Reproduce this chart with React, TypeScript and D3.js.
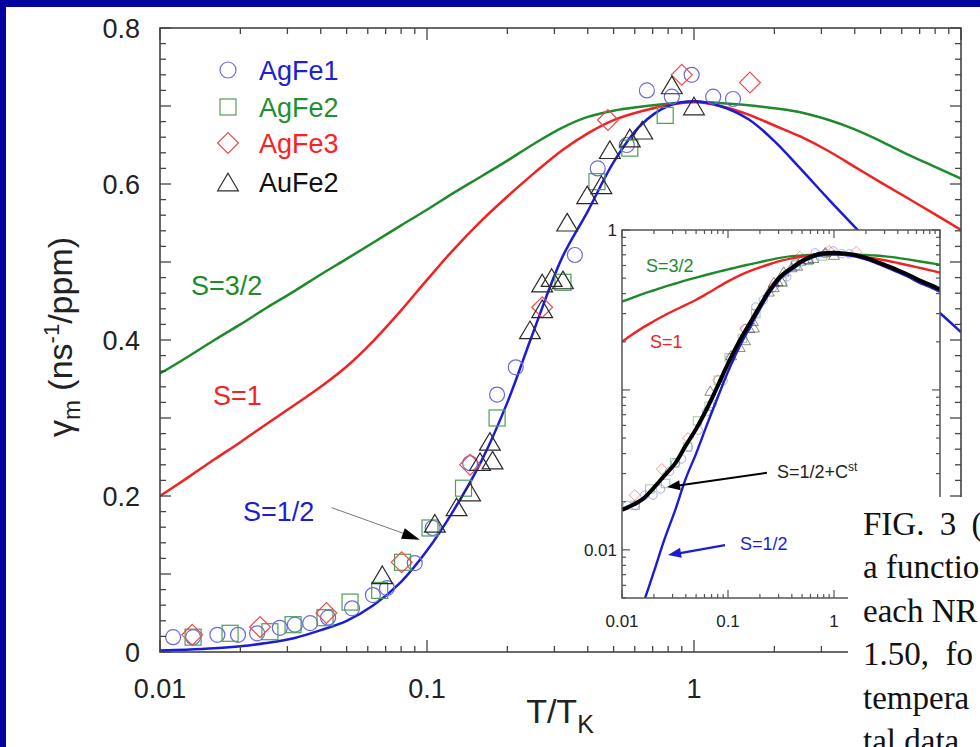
import React from "react";
import * as d3 from "d3";

// model curves, sampled on the same T/TK grid
const tGrid = [0.01, 0.0125, 0.016, 0.02, 0.025, 0.032, 0.04, 0.05, 0.063, 0.08, 0.1, 0.125, 0.16, 0.2, 0.25, 0.32, 0.4, 0.5, 0.63, 0.8, 1, 1.25, 1.6, 2, 2.5, 3.2, 4, 5, 6.3, 8, 10];
const spinHalf = [0.0018, 0.0029, 0.0047, 0.0073, 0.0115, 0.018, 0.028, 0.04, 0.06, 0.09, 0.13, 0.18, 0.245, 0.32, 0.41, 0.505, 0.565, 0.628, 0.675, 0.7, 0.706, 0.7, 0.683, 0.655, 0.62, 0.58, 0.545, 0.51, 0.47, 0.44, 0.41];
const spinOne = [0.2, 0.222, 0.247, 0.269, 0.292, 0.317, 0.34, 0.366, 0.399, 0.438, 0.477, 0.515, 0.553, 0.584, 0.613, 0.643, 0.665, 0.682, 0.693, 0.701, 0.705, 0.7, 0.689, 0.675, 0.661, 0.642, 0.622, 0.602, 0.582, 0.561, 0.541];
const spinThreeHalf = [0.357, 0.377, 0.4, 0.42, 0.441, 0.463, 0.484, 0.504, 0.525, 0.547, 0.567, 0.588, 0.61, 0.63, 0.651, 0.672, 0.686, 0.694, 0.699, 0.703, 0.705, 0.704, 0.701, 0.697, 0.692, 0.682, 0.67, 0.655, 0.638, 0.622, 0.607];
const spinHalfConst = [0.0178, 0.019, 0.021, 0.0245, 0.029, 0.035, 0.045, 0.057, 0.076, 0.106, 0.146, 0.196, 0.26, 0.335, 0.425, 0.52, 0.58, 0.64, 0.69, 0.715, 0.72, 0.714, 0.698, 0.67, 0.635, 0.595, 0.56, 0.525, 0.487, 0.455, 0.425];

// measured points [T/TK, gamma]
const agFe1 = [[0.0112, 0.019], [0.0133, 0.019], [0.0164, 0.022], [0.0196, 0.022], [0.0231, 0.024], [0.0281, 0.031], [0.032, 0.035], [0.0365, 0.037], [0.0426, 0.044], [0.0524, 0.056], [0.0627, 0.073], [0.0708, 0.082], [0.09, 0.114], [0.105, 0.159], [0.145, 0.242], [0.183, 0.33], [0.215, 0.365], [0.358, 0.509], [0.436, 0.62], [0.56, 0.65], [0.666, 0.72], [0.826, 0.712], [0.98, 0.74], [1.18, 0.712], [1.4, 0.709]];
const agFe2 = [[0.0133, 0.019], [0.0183, 0.024], [0.0258, 0.026], [0.0315, 0.035], [0.0415, 0.044], [0.0515, 0.064], [0.0665, 0.079], [0.081, 0.115], [0.1026, 0.159], [0.137, 0.21], [0.183, 0.3], [0.323, 0.474], [0.433, 0.603], [0.575, 0.646], [0.78, 0.688]];
const agFe3 = [[0.0132, 0.022], [0.0237, 0.032], [0.042, 0.05], [0.0804, 0.115], [0.145, 0.24], [0.27, 0.442], [0.476, 0.682], [0.9, 0.74], [1.62, 0.73]];
const auFe2 = [[0.068, 0.099], [0.107, 0.165], [0.129, 0.186], [0.145, 0.205], [0.158, 0.244], [0.172, 0.27], [0.176, 0.246], [0.243, 0.413], [0.27, 0.44], [0.27, 0.473], [0.293, 0.48], [0.323, 0.477], [0.335, 0.551], [0.398, 0.586], [0.45, 0.599], [0.484, 0.644], [0.575, 0.659], [0.64, 0.669], [0.826, 0.727], [1.0, 0.7]];

const seriesNames = ["AgFe1", "AgFe2", "AgFe3", "AuFe2"];
const mainYLabels = [0, 0.2, 0.4, 0.6, 0.8];
const mainXLabels = [0.01, 0.1, 1];
const insetXLabels = [0.01, 0.1, 1];
const insetYLabels = [0.01, 1];
const captionLines = ["FIG. 3 (", "a functio", "each NR", "1.50,  fo", "tempera", "tal data"];

const W = 980, H = 747;
const sans = "'Liberation Sans', Arial, sans-serif";
const cBlue = "#1c1cd6", cRed = "#f02222", cGreen = "#1d8a2c";
const markColor = ["#6a6ae0", "#4f9e55", "#ec4a4a", "#2a2a2a"];
const textColor = ["#2020d0", "#1f8f2f", "#ff2020", "#111"];
const kinds = ["circle", "square", "diamond", "triangle"];
const sets = [agFe1, agFe2, agFe3, auFe2];

function Marker({ kind, cx, cy, s, color, sw = 1.2, op = 1 }) {
  const common = { fill: "none", stroke: color, strokeWidth: sw, opacity: op };
  if (kind === "circle") return <circle cx={cx} cy={cy} r={s} {...common} />;
  if (kind === "square") return <rect x={cx - s} y={cy - s} width={2 * s} height={2 * s} {...common} />;
  if (kind === "diamond") {
    const d = s * 1.3;
    return <polygon points={`${cx},${cy - d} ${cx + d},${cy} ${cx},${cy + d} ${cx - d},${cy}`} {...common} />;
  }
  const h = s * 1.1;
  return <polygon points={`${cx},${cy - h} ${cx + s * 1.3},${cy + h} ${cx - s * 1.3},${cy + h}`} {...common} />;
}

function arrowHead(x1, y1, x2, y2, len, wid) {
  const a = Math.atan2(y2 - y1, x2 - x1);
  const bx = x2 - len * Math.cos(a), by = y2 - len * Math.sin(a);
  const px = Math.sin(a) * wid / 2, py = -Math.cos(a) * wid / 2;
  return `${x2},${y2} ${bx + px},${by + py} ${bx - px},${by - py}`;
}

export default function App() {
  // main panel
  const x = d3.scaleLog().domain([0.01, 10]).range([160, 961]);
  const y = d3.scaleLinear().domain([0, 0.8]).range([652, 28]);
  // inset
  const ix = d3.scaleLog().domain([0.01, 10]).range([622, 940]);
  const iy = d3.scaleLog().domain([0.005, 1]).range([598, 230]);

  const smooth = d3.curveCatmullRom.alpha(0.5);
  const mainLine = (vals) => d3.line().curve(smooth)(tGrid.map((t, i) => [x(t), y(vals[i])]));
  const insetLine = (vals) => d3.line().curve(smooth)(tGrid.map((t, i) => [ix(t), iy(vals[i])]));

  const [x0, x1] = x.range(), [y0, y1] = y.range();
  const [ix0, ix1] = ix.range(), [iy0, iy1] = iy.range();
  const isDecade = (v) => Math.abs(Math.log10(v) - Math.round(Math.log10(v))) < 1e-6;
  const xt = x.ticks();
  const yt = d3.range(0, 0.8001, 0.02);
  const ixt = ix.ticks();
  const iyt = iy.ticks();
  const axisCol = "#444";

  // arrows
  const mA = [x(0.044), y(0.185), x(0.094), y(0.144)];
  const bA = [ix(0.233), iy(0.0303), ix(0.0266), iy(0.0247)];
  const uA = [ix(0.0938), iy(0.0107), ix(0.0272), iy(0.0093)];

  return (
    <svg width={W} height={H} style={{ position: "absolute", left: 0, top: 0, background: "#fff" }} fontFamily={sans}>
      <defs>
        <clipPath id="mainClip"><rect x={x0} y={y1} width={x1 - x0} height={y0 - y1} /></clipPath>
        <clipPath id="insetClip"><rect x={ix0} y={iy1} width={ix1 - ix0} height={iy0 - iy1} /></clipPath>
      </defs>
      <rect width={W} height={H} fill="#fff" />

      {/* main curves */}
      <g clipPath="url(#mainClip)" fill="none" strokeWidth={2.5}>
        <path d={mainLine(spinThreeHalf)} stroke={cGreen} />
        <path d={mainLine(spinOne)} stroke={cRed} />
        <path d={mainLine(spinHalf)} stroke={cBlue} />
      </g>

      {/* main data */}
      <g>
        {sets.map((pts, k) => pts.map((p, i) => (
          <Marker key={k + "-" + i} kind={kinds[k]} cx={x(p[0])} cy={y(p[1])} s={k === 0 ? 7.5 : 8} color={markColor[k]} />
        )))}
      </g>

      {/* main frame and ticks */}
      <rect x={x0} y={y1} width={x1 - x0} height={y0 - y1} fill="none" stroke={axisCol} strokeWidth={1.6} />
      <g stroke={axisCol} strokeWidth={1.3}>
        {xt.map((t, i) => {
          const len = isDecade(t) ? 12 : 6;
          return (
            <g key={"xt" + i}>
              <line x1={x(t)} x2={x(t)} y1={y0} y2={y0 - len} />
              <line x1={x(t)} x2={x(t)} y1={y1} y2={y1 + len} />
            </g>
          );
        })}
        {yt.map((v, i) => {
          const len = Math.abs(v * 10 - Math.round(v * 10)) < 1e-6 ? 11 : 6;
          return (
            <g key={"yt" + i}>
              <line x1={x0} x2={x0 + len} y1={y(v)} y2={y(v)} />
              <line x1={x1} x2={x1 - len} y1={y(v)} y2={y(v)} />
            </g>
          );
        })}
      </g>
      <g fontSize={27} fill="#222">
        {mainYLabels.map((v) => (
          <text key={"yl" + v} x={x0 - 20} y={y(v) + 10} textAnchor="end">{v === 0 ? "0" : v.toFixed(1)}</text>
        ))}
        {mainXLabels.map((v) => (
          <text key={"xl" + v} x={x(v)} y={698} textAnchor="middle">{String(v)}</text>
        ))}
      </g>
      <text x={560} y={723} textAnchor="middle" fontSize={34} fill="#222">T/T<tspan dy={10} fontSize={25}>K</tspan></text>
      <text transform="translate(72,337) rotate(-90)" textAnchor="middle" fontSize={34} fill="#222">
        γ<tspan dy={8} fontSize={24}>m</tspan><tspan dy={-8}> (ns</tspan><tspan dy={-13} fontSize={22}>-1</tspan><tspan dy={13}>/ppm)</tspan>
      </text>

      {/* legend */}
      {seriesNames.map((n, k) => {
        const ly = [70, 107, 143, 182][k];
        return (
          <g key={n}>
            <Marker kind={kinds[k]} cx={228} cy={ly} s={8} color={markColor[k]} />
            <text x={259} y={ly + 10} fontSize={27} fill={textColor[k]}>{n}</text>
          </g>
        );
      })}

      {/* main annotations */}
      <text x={191} y={295} fontSize={27} fill={cGreen}>S=3/2</text>
      <text x={213} y={405} fontSize={27} fill={cRed}>S=1</text>
      <text x={243} y={521} fontSize={27} fill={cBlue}>S=1/2</text>
      <line x1={mA[0]} y1={mA[1]} x2={mA[2] - 10} y2={mA[3] - 4} stroke="#777" strokeWidth={1} />
      <polygon points={arrowHead(mA[0], mA[1], mA[2], mA[3], 18, 11)} fill="#000" />

      {/* inset */}
      <rect x={ix0} y={iy1} width={ix1 - ix0} height={iy0 - iy1} fill="#fff" />
      <g clipPath="url(#insetClip)">
        {sets.map((pts, k) => pts.map((p, i) => (
          <Marker key={"i" + k + "-" + i} kind={kinds[k]} cx={ix(p[0])} cy={iy(p[1])} s={4.2} color={markColor[k]} sw={1} op={0.55} />
        )))}
        <g fill="none">
          <path d={insetLine(spinThreeHalf)} stroke={cGreen} strokeWidth={2.4} />
          <path d={insetLine(spinOne)} stroke={cRed} strokeWidth={2.4} />
          <path d={insetLine(spinHalf)} stroke={cBlue} strokeWidth={2.4} />
          <path d={insetLine(spinHalfConst)} stroke="#000" strokeWidth={4} />
        </g>
      </g>
      <rect x={ix0} y={iy1} width={ix1 - ix0} height={iy0 - iy1} fill="none" stroke="#555" strokeWidth={1.5} />
      <g stroke="#555" strokeWidth={1.2}>
        {ixt.map((t, i) => {
          const len = isDecade(t) ? 8 : 4;
          return (
            <g key={"ixt" + i}>
              <line x1={ix(t)} x2={ix(t)} y1={iy0} y2={iy0 - len} />
              <line x1={ix(t)} x2={ix(t)} y1={iy1} y2={iy1 + len} />
            </g>
          );
        })}
        {iyt.map((t, i) => {
          const len = isDecade(t) ? 8 : 4;
          return (
            <g key={"iyt" + i}>
              <line x1={ix0} x2={ix0 + len} y1={iy(t)} y2={iy(t)} />
              <line x1={ix1} x2={ix1 - len} y1={iy(t)} y2={iy(t)} />
            </g>
          );
        })}
      </g>
      <g fontSize={17} fill="#222">
        {insetXLabels.map((v) => (
          <text key={"ixl" + v} x={ix(v)} y={627} textAnchor="middle">{String(v)}</text>
        ))}
        {insetYLabels.map((v) => (
          <text key={"iyl" + v} x={ix0 - 5} y={iy(v) + 6} textAnchor="end">{String(v)}</text>
        ))}
      </g>
      <text x={646} y={272} fontSize={18} fill={cGreen}>S=3/2</text>
      <text x={650} y={348} fontSize={18} fill={cRed}>S=1</text>
      <text x={777} y={478} fontSize={18} fill="#222">S=1/2+C<tspan dy={-7} fontSize={12}>st</tspan></text>
      <line x1={bA[0]} y1={bA[1]} x2={bA[2] + 8} y2={bA[3] - 1} stroke="#000" strokeWidth={2} />
      <polygon points={arrowHead(bA[0], bA[1], bA[2], bA[3], 13, 10)} fill="#000" />
      <text x={740} y={550} fontSize={18} fill={cBlue}>S=1/2</text>
      <line x1={uA[0]} y1={uA[1]} x2={uA[2] + 8} y2={uA[3] - 1} stroke={cBlue} strokeWidth={2.4} />
      <polygon points={arrowHead(uA[0], uA[1], uA[2], uA[3], 13, 10)} fill={cBlue} />

      {/* caption block, cropped by the slide edge as in the original */}
      <rect x={848} y={497} width={W - 848} height={H - 497} fill="#fff" />
      <g fontFamily="'Liberation Serif', 'Times New Roman', serif" fontSize={33} fill="#111">
        {captionLines.map((s, i) => (
          <text key={"cap" + i} x={863} y={535 + i * 43.4} style={{ whiteSpace: "pre" }} wordSpacing={i === 0 ? 7 : 0}>{s}</text>
        ))}
      </g>

      {/* slide border */}
      <rect x={0} y={0} width={W} height={7} fill="#0303a0" />
      <rect x={0} y={0} width={6} height={H} fill="#0303a0" />
    </svg>
  );
}
